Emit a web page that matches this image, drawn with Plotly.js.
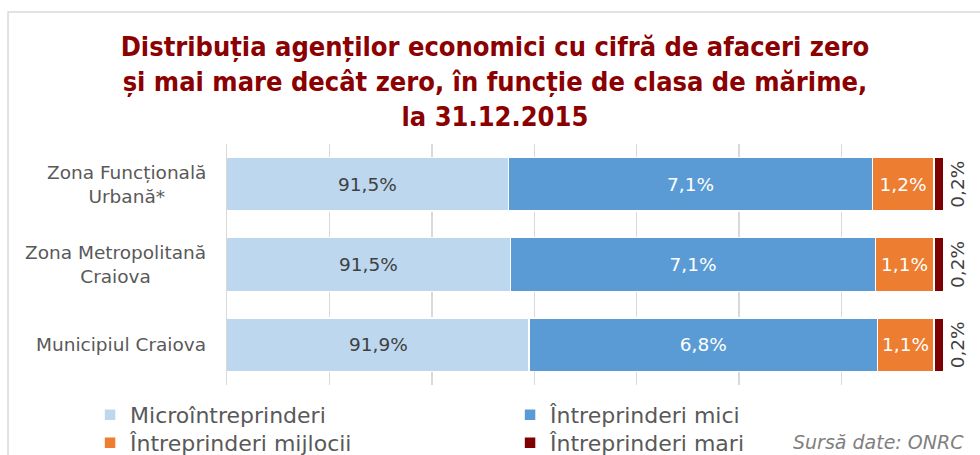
<!DOCTYPE html>
<html>
<head>
<meta charset="utf-8">
<script src="https://cdn.plot.ly/plotly-3.0.1.min.js"></script>
<style>html,body{margin:0;padding:0;background:#fff;}#chart{width:980px;height:455px;}</style>
</head>
<body>
<div id="chart"></div>
<script>
const categories = ["Zona Funcțională<br>Urbană*", "Zona Metropolitană<br>Craiova", "Municipiul Craiova"];
const seriesNames = ["Microîntreprinderi", "Întreprinderi mici", "Întreprinderi mijlocii", "Întreprinderi mari"];
const micro = [91.5, 91.54, 91.9];
const mici = [7.1, 7.12, 6.8];
const mijlocii = [1.2, 1.14, 1.1];
const mari = [0.2, 0.2, 0.2];
const axisMin = 86;
const axisMax = 100;
const colors = ["#BDD7EE", "#5B9BD5", "#ED7D31", "#7F0000"];
const labelColors = ["#404040", "#ffffff", "#ffffff", "#404040"];

const FONT = "DejaVu Sans, sans-serif";
const values = [micro, mici, mijlocii, mari];
const traces = values.map((v, i) => ({
  type: "bar",
  orientation: "h",
  name: seriesNames[i],
  legend: i < 2 ? "legend" : "legend2",
  x: v,
  y: categories,
  marker: {color: colors[i], line: {color: "#ffffff", width: 1.5}},
  texttemplate: i === 0 ? "" : "%{x:.1f}%",
  textposition: i === 0 ? "none" : (i === 3 ? "outside" : "inside"),
  insidetextanchor: "middle",
  textangle: i === 3 ? -90 : 0,
  constraintext: "none",
  cliponaxis: false,
  textfont: {family: FONT, size: 18.5, color: labelColors[i]},
  hoverinfo: "skip"
}));

const fmt = v => v.toFixed(1).replace(".", ",") + "%";
const annotations = categories.map(c => ({
  xref: "paper", yref: "y", x: -0.026, y: c, xanchor: "right", yanchor: "middle",
  text: c, showarrow: false, align: "center",
  font: {family: FONT, size: 18.5, color: "#595959"}
}));
// micro labels centred in the visible part of the bar
micro.forEach((v, i) => annotations.push({
  xref: "x", yref: "y", x: (axisMin + v) / 2, y: categories[i], xanchor: "center", yanchor: "middle",
  text: fmt(v), showarrow: false,
  font: {family: FONT, size: 18.5, color: labelColors[0]}
}));
annotations.push({
  xref: "paper", yref: "paper", x: 1.03, y: -0.235, xanchor: "right", yanchor: "middle",
  text: "<i>Sursă date: ONRC</i>", showarrow: false,
  font: {family: FONT, size: 19, color: "#808080"}
});

const legendBase = {
  orientation: "h", x: -0.191, xanchor: "left", yanchor: "middle",
  entrywidth: 375, entrywidthmode: "pixels",
  font: {family: FONT, size: 22, color: "#595959"},
  bgcolor: "rgba(0,0,0,0)", traceorder: "normal"
};

const layout = {
  width: 980, height: 455,
  margin: {l: 227, r: 36, t: 144, b: 70, autoexpand: false},
  paper_bgcolor: "#ffffff", plot_bgcolor: "#ffffff",
  separators: ",.",
  barmode: "stack",
  bargap: 0.33,
  showlegend: true,
  title: {
    text: "Distribuția agenților economici cu cifră de afaceri zero<br>și mai mare decât zero, în funcție de clasa de mărime,<br>la 31.12.2015",
    font: {family: "Liberation Sans Narrow, DejaVu Sans Condensed, sans-serif", size: 27, color: "#8B0000", weight: "bold"},
    x: 0.505, xanchor: "center", xref: "container",
    y: 0.877, yanchor: "top", yref: "container"
  },
  xaxis: {
    range: [axisMin, axisMax + 0.0001], tick0: axisMin, dtick: 2, showgrid: true, gridcolor: "#d9d9d9", gridwidth: 1.5,
    showticklabels: false, zeroline: false, showline: false, ticks: "", fixedrange: true
  },
  yaxis: {
    type: "category", autorange: "reversed", showticklabels: false, showgrid: false,
    showline: true, linecolor: "#d9d9d9", linewidth: 1.5, ticks: "", zeroline: false, fixedrange: true
  },
  legend: Object.assign({}, legendBase, {y: -0.1245}),
  legend2: Object.assign({}, legendBase, {y: -0.2407}),
  annotations: annotations,
  shapes: [{
    type: "rect", xref: "paper", yref: "paper",
    x0: -0.3054, x1: 1.2, y0: -0.5, y1: 1.5477,
    line: {color: "#d9d9d9", width: 1.5}, fillcolor: "rgba(0,0,0,0)", layer: "below"
  }]
};

Plotly.newPlot("chart", traces, layout, {displayModeBar: false, staticPlot: true});
</script>
</body>
</html>
